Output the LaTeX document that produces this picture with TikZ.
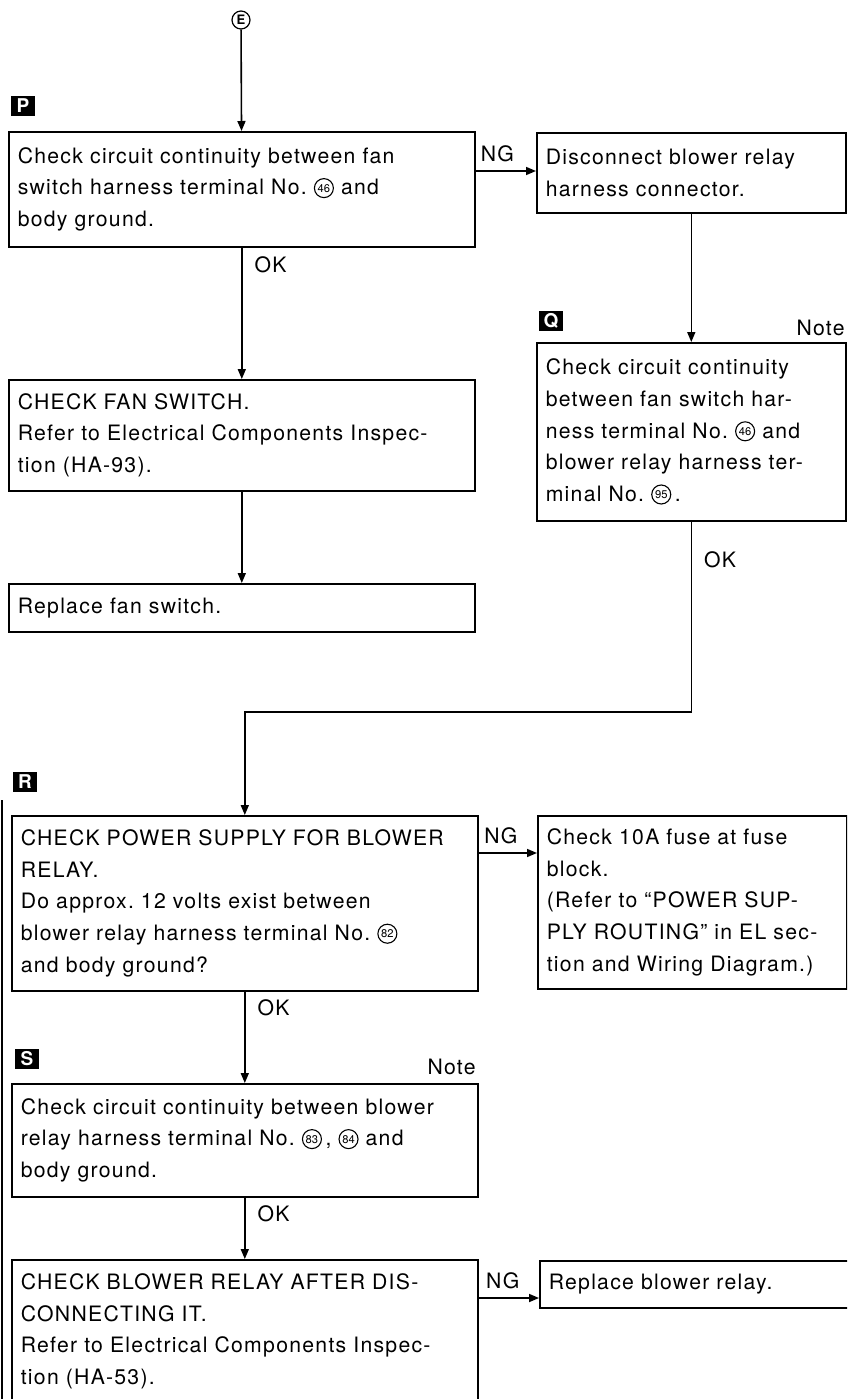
\documentclass[tikz,border=0pt]{standalone}
\usepackage{fontspec}
\setmainfont{TeX Gyre Heros}[LetterSpace=6, WordSpace=1.4]
\newfontfamily\numfont{TeX Gyre Heros}
\usetikzlibrary{arrows.meta,positioning,calc}

% circled terminal number
\newcommand{\cnum}[1]{\tikz[baseline={([yshift=-3.4pt]cn.center)}]
  \node[circle, draw, line width=0.55pt, inner sep=0pt, minimum size=9.5pt,
        font=\numfont\fontsize{5.6}{5.6}\selectfont] (cn) {#1};}

\begin{document}
\frenchspacing
\begin{tikzpicture}[x=0.5pt, y=-0.5pt,
    stepbox/.style={draw, line width=0.8pt, anchor=north west, align=left,
                    inner xsep=4.5pt, inner ysep=0pt,
                    font=\fontsize{10.6}{15.8}\selectfont},
    leftbox/.style={stepbox, text width=224pt},
    rightbox/.style={stepbox, text width=145.5pt},
    tag/.style={fill=black, text=white, inner sep=0pt, minimum width=12pt,
                minimum height=10pt, font=\bfseries\fontsize{9.5}{9.5}\selectfont},
    lbl/.style={inner sep=0pt, font=\fontsize{10.6}{10.6}\selectfont},
    arr/.style={line width=0.8pt, -{Triangle[length=5pt,width=4pt]}}]

    \useasboundingbox (0,0) rectangle (847,1399);
    \clip (0,0) rectangle (847,1399);

    % entry point
    \node[circle, draw, line width=0.6pt, inner sep=0pt, minimum size=9pt,
          font=\bfseries\fontsize{6.5}{6.5}\selectfont] (E) at (241,20) {E};

    % P: continuity fan switch -- ground
    \node[tag] (tagP) at (23,106) {P};
    \node[leftbox, minimum height=57.5pt] (P) at (8,131)
        {Check circuit continuity between fan\\
         switch harness terminal No.\ \cnum{46}\ and\\
         body ground.};
    \node[rightbox, minimum height=40pt] (D) at (536,132)
        {Disconnect blower relay\\
         harness connector.};

    % Q: continuity fan switch -- blower relay
    \node[tag] (tagQ) at (551,321) {Q};
    \node[lbl, anchor=east] (noteQ) at (845,328) {Note};
    \node[rightbox, minimum height=89pt] (Q) at (536,342)
        {Check circuit continuity\\
         between fan switch har-\\
         ness terminal No.\ \cnum{46}\ and\\
         blower relay harness ter-\\
         minal No.\ \cnum{95}\,.};

    \node[leftbox, minimum height=55.5pt] (fan) at (8,379)
        {CHECK FAN SWITCH.\\
         Refer to Electrical Components Inspec-\\
         tion (HA-93).};
    \node[leftbox, minimum height=24pt] (repfan) at (8,583)
        {Replace fan switch.};

    % R: power supply
    \node[tag] (tagR) at (25,782) {R};
    \node[leftbox, minimum height=87.5pt] (R) at (11,815)
        {CHECK POWER SUPPLY FOR BLOWER\\
         RELAY.\\
         Do approx. 12 volts exist between\\
         blower relay harness terminal No.\ \cnum{82}\\
         and body ground?};
    \node[rightbox, minimum height=86.5pt] (fuse) at (537,815)
        {Check 10A fuse at fuse\\
         block.\\
         (Refer to ``POWER SUP-\\
         PLY ROUTING'' in EL sec-\\
         tion and Wiring Diagram.)};

    % S: relay ground
    \node[tag] (tagS) at (27,1059) {S};
    \node[lbl, anchor=east] (noteS) at (476,1067) {Note};
    \node[leftbox, minimum height=56.5pt] (S) at (11,1083)
        {Check circuit continuity between blower\\
         relay harness terminal No.\ \cnum{83}\,,\ \cnum{84}\ and\\
         body ground.};
    \node[leftbox, minimum height=71.5pt] (relay) at (11,1259)
        {CHECK BLOWER RELAY AFTER DIS-\\
         CONNECTING IT.\\
         Refer to Electrical Components Inspec-\\
         tion (HA-53).};
    \node[rightbox, minimum height=23.5pt] (reprelay) at (539,1260)
        {Replace blower relay.};

    % connectors
    \draw[arr] (E) -- (P);
    \draw[arr] ([yshift=-20pt]P.north east) -- ([yshift=-20pt]P.north east -| D.west)
        node[lbl, pos=0.36, above=4pt] (ng1) {NG};
    \draw[arr] (P) -- (fan) node[lbl, pos=0.13, right=6pt] (ok1) {OK};
    \draw[arr] (fan) -- (repfan);
    \draw[arr] (D) -- (Q);
    \coordinate (bend) at (R.north |- 0,712);
    \draw[arr] (Q.south) |- node[lbl, pos=0.1, right=6pt] (ok2) {OK} (bend) -- (R.north);
    \draw[arr] ([yshift=-19pt]R.north east) -- ([yshift=-19pt]R.north east -| fuse.west)
        node[lbl, pos=0.38, above=4pt] (ng2) {NG};
    \draw[arr] (R) -- (S) node[lbl, pos=0.18, right=6pt] (ok3) {OK};
    \draw[arr] (S) -- (relay) node[lbl, pos=0.27, right=6pt] (ok4) {OK};
    \draw[arr] ([yshift=-19.5pt]relay.north east) -- ([yshift=-19.5pt]relay.north east -| reprelay.west)
        node[lbl, pos=0.4, above=4pt] (ng3) {NG};

    % page edge
    \draw[line width=0.6pt] (2,800) -- (2,1399);
\end{tikzpicture}
\end{document}
